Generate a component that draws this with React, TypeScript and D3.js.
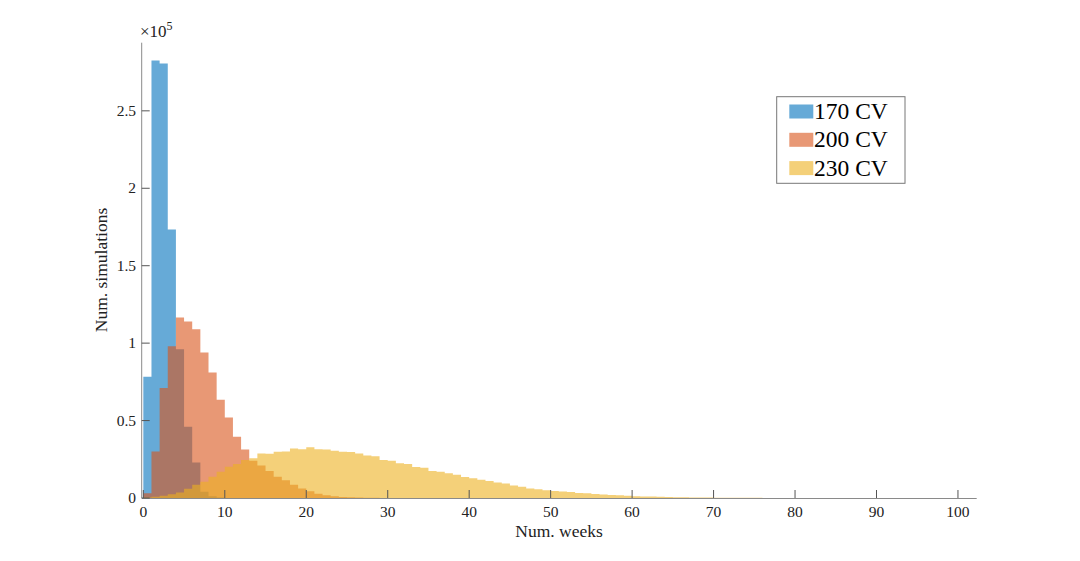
import React from 'react';
import * as d3 from 'd3';

// counts per 1-week bin, starting at week 0
const blue170 = [78300, 282500, 280500, 173400, 96000, 46000, 23000, 4000, 1200, 300];
const orange200 = [
  3000, 30000, 71000, 98000, 116600, 114000, 109000, 94000, 81000, 63500,
  52000, 39500, 31300, 24000, 21000, 17500, 13700, 11500, 8500, 6200,
  4300, 2800, 1800, 1100, 700, 450, 300, 200, 120, 80, 50,
];
const yellow230 = [
  300, 800, 1500, 2500, 3600, 6000, 8500, 10500, 13700, 17000,
  20200, 21900, 24500, 25600, 28800, 28600, 29900, 30100, 32000, 31400,
  32700, 31400, 31300, 30500, 29900, 29700, 28800, 27500, 27000, 24500,
  24000, 22500, 22000, 20000, 19500, 17500, 17000, 16000, 15000, 13500,
  12700, 11800, 11000, 10000, 9300, 8000, 7300, 6200, 5600, 5000,
  4600, 4200, 3800, 3300, 3000, 2600, 2300, 2000, 1700, 1500,
  1200, 1000, 900, 750, 600, 500, 420, 350, 300, 250,
  200, 170, 150, 130, 110, 95, 80, 70, 60, 50,
  45, 40, 35, 30, 25, 20, 18, 15, 12, 10,
  8, 6, 5, 4, 3, 2, 2, 1, 1, 1,
];

const seriesNames = ['170 CV', '200 CV', '230 CV'];
const seriesColors = ['#0072BD', '#D95319', '#EDB120'];
const xTicks = [0, 10, 20, 30, 40, 50, 60, 70, 80, 90, 100];
const yTicks = [0, 50000, 100000, 150000, 200000, 250000];
const yTickLabels = ['0', '0.5', '1', '1.5', '2', '2.5'];

const W = 1080;
const H = 561;
const font = '"Liberation Serif", "Times New Roman", serif';

const x = d3.scaleLinear().domain([-0.2, 102.3]).range([141.7, 976.7]);
const y = d3.scaleLinear().domain([0, 294000]).range([498, 42.7]);

const stepArea = (counts: number[]) => {
  const pts: [number, number][] = counts.map((v, i) => [i, v]);
  pts.push([counts.length, counts[counts.length - 1]]);
  return d3
    .area<[number, number]>()
    .x(d => x(d[0]))
    .y0(y(0))
    .y1(d => y(d[1]))
    .curve(d3.curveStepAfter)(pts) as string;
};

export default function App() {
  const all = [blue170, orange200, yellow230];
  const axisColor = '#8a8a8a';
  const tickColor = '#555';
  const textColor = '#222';

  return (
    <div style={{ position: 'absolute', left: 0, top: 0 }}>
      <svg width={W} height={H} style={{ display: 'block', background: '#fff' }}>
        {all.map((counts, i) => (
          <path key={i} d={stepArea(counts)} fill={seriesColors[i]} fillOpacity={0.6} stroke="none" />
        ))}

        {/* axes */}
        <line x1={x.range()[0]} x2={x.range()[1]} y1={y(0) + 0.5} y2={y(0) + 0.5} stroke={axisColor} />
        <line x1={x.range()[0]} x2={x.range()[0]} y1={y.range()[0]} y2={y.range()[1]} stroke={axisColor} />

        {xTicks.map(t => (
          <g key={'x' + t}>
            <line x1={x(t)} x2={x(t)} y1={y(0)} y2={y(0) - 8} stroke={tickColor} />
            <text x={x(t)} y={517} textAnchor="middle" fontFamily={font} fontSize={15.5} fill={textColor}>
              {t}
            </text>
          </g>
        ))}
        {yTicks.map((t, i) => (
          <g key={'y' + t}>
            <line x1={x.range()[0]} x2={x.range()[0] + 8} y1={y(t)} y2={y(t)} stroke={tickColor} />
            <text x={136} y={y(t) + 5} textAnchor="end" fontFamily={font} fontSize={15.5} fill={textColor}>
              {yTickLabels[i]}
            </text>
          </g>
        ))}

        <text x={140} y={37} fontFamily={font} fontSize={17} fill={textColor}>
          ×10
          <tspan dy={-7} fontSize={12}>5</tspan>
        </text>

        <text x={559} y={537} textAnchor="middle" fontFamily={font} fontSize={17.5} fill={textColor}>
          Num. weeks
        </text>
        <text
          transform={`translate(107, 270) rotate(-90)`}
          textAnchor="middle"
          fontFamily={font}
          fontSize={17.5}
          fill={textColor}
        >
          Num. simulations
        </text>

        {/* legend */}
        <g>
          <rect x={776.7} y={96.7} width={128.3} height={86.6} fill="#fff" stroke="#777" strokeWidth={1} />
          {seriesNames.map((name, i) => (
            <g key={name} transform={`translate(0, ${i * 28.3})`}>
              <rect x={789.3} y={104.5} width={24} height={14} fill={seriesColors[i]} fillOpacity={0.6} />
              <text x={814} y={119} fontFamily={font} fontSize={23.5} fill="#000">
                {name}
              </text>
            </g>
          ))}
        </g>
      </svg>
    </div>
  );
}
